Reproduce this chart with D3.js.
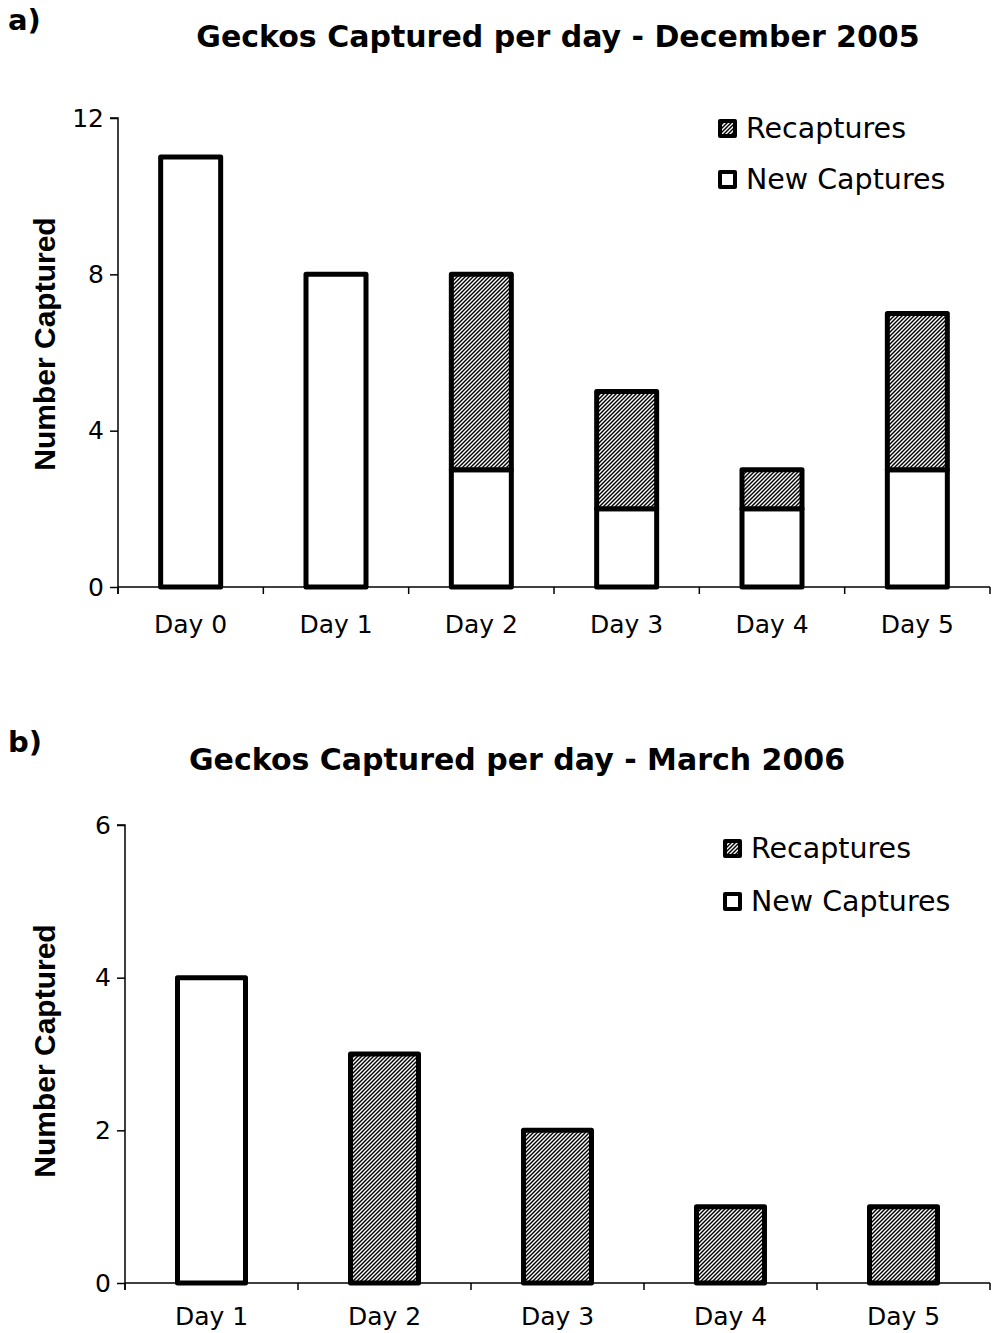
<!DOCTYPE html>
<html lang="en">
  <head>
    <meta charset="UTF-8" />
    <title>Geckos Captured per day</title>
    <script src="https://cdn.jsdelivr.net/npm/d3@7/dist/d3.min.js"></script>
    <style>
      body { margin: 0; background: #fff; }
      text { fill: #000; }
      .tick text, .xl { font: 25px "DejaVu Sans", Verdana, sans-serif; }
      .title { font: bold 30px "DejaVu Sans", Verdana, sans-serif; }
      .panel { font: bold 29px "DejaVu Sans", Verdana, sans-serif; }
      .ylab { font: bold 30px "Liberation Sans", Arial, sans-serif; }
      .legend { font: 28.5px "DejaVu Sans", Verdana, sans-serif; }
    </style>
  </head>
  <body>
    <svg width="996" height="1333"></svg>
    <script>
      // panel a: December 2005
      const daysA = ["Day 0", "Day 1", "Day 2", "Day 3", "Day 4", "Day 5"];
      const newA = [11, 8, 3, 2, 2, 3];
      const recapA = [0, 0, 5, 3, 1, 4];
      const ticksA = [0, 4, 8, 12];

      // panel b: March 2006
      const daysB = ["Day 1", "Day 2", "Day 3", "Day 4", "Day 5"];
      const newB = [4, 0, 0, 0, 0];
      const recapB = [0, 3, 2, 1, 1];
      const ticksB = [0, 2, 4, 6];

      const svg = d3.select("svg");

      // hatch fill for recaptures
      const pat = svg.append("defs").append("pattern")
        .attr("id", "hatch")
        .attr("patternUnits", "userSpaceOnUse")
        .attr("width", 4)
        .attr("height", 4);
      pat.append("rect").attr("width", 4).attr("height", 4).attr("fill", "#000");
      pat.append("path")
        .attr("d", "M-1,1 l2,-2 M0,4 l4,-4 M3,5 l2,-2")
        .attr("stroke", "#fff")
        .attr("stroke-width", 1.4);

      function drawChart(opt) {
        const g = svg.append("g");
        const x = d3.scaleBand().domain(opt.days).range([opt.x0, opt.x1]).paddingInner(0).paddingOuter(0);
        const y = d3.scaleLinear().domain([0, opt.ymax]).range([opt.y0, opt.ytop]);

        // x axis: ticks at category boundaries
        g.append("line")
          .attr("x1", opt.x0).attr("x2", opt.x1)
          .attr("y1", opt.y0).attr("y2", opt.y0)
          .attr("stroke", "#000").attr("stroke-width", 1.5);
        const bounds = opt.days.map((d) => x(d)).concat([opt.x1]);
        g.selectAll(".xt").data(bounds).enter().append("line")
          .attr("x1", (d) => d).attr("x2", (d) => d)
          .attr("y1", opt.y0).attr("y2", opt.y0 + 7)
          .attr("stroke", "#000").attr("stroke-width", 1.5);
        g.selectAll(".xl").data(opt.days).enter().append("text")
          .attr("class", "xl")
          .attr("x", (d) => x(d) + x.bandwidth() / 2)
          .attr("y", opt.y0 + opt.xlabDy)
          .attr("text-anchor", "middle")
          .text((d) => d);

        // y axis
        const yAxis = d3.axisLeft(y).tickValues(opt.yticks).tickFormat(d3.format("d"))
          .tickSize(8).tickPadding(6);
        const ya = g.append("g").attr("transform", `translate(${opt.x0},0)`).call(yAxis);
        ya.select(".domain").attr("stroke-width", 1.5).attr("d", `M-8,${opt.ytop}H0V${opt.y0 + 7}`);
        ya.selectAll(".tick line").attr("stroke-width", 1.5);

        // bars
        const bw = opt.barW;
        const bars = g.selectAll(".bar").data(opt.days).enter().append("g");
        bars.each(function (d, i) {
          const b = d3.select(this);
          const cx = x(d) + x.bandwidth() / 2;
          const n = opt.news[i], r = opt.recaps[i];
          if (n > 0) {
            b.append("rect")
              .attr("x", cx - bw / 2).attr("width", bw)
              .attr("y", y(n)).attr("height", y(0) - y(n))
              .attr("fill", "#fff").attr("stroke", "#000")
              .attr("stroke-width", 5).attr("stroke-linejoin", "round");
          }
          if (r > 0) {
            b.append("rect")
              .attr("x", cx - bw / 2).attr("width", bw)
              .attr("y", y(n + r)).attr("height", y(n) - y(n + r))
              .attr("fill", "url(#hatch)").attr("stroke", "#000")
              .attr("stroke-width", 5).attr("stroke-linejoin", "round");
          }
        });

        // titles
        g.append("text").attr("class", "panel").attr("x", 8).attr("y", opt.panelY).text(opt.panel);
        g.append("text").attr("class", "title")
          .attr("x", opt.titleX).attr("y", opt.titleY)
          .attr("text-anchor", "middle").text(opt.title);
        g.append("text").attr("class", "ylab")
          .attr("transform", `translate(${opt.ylabX},${opt.ylabY}) rotate(-90)`)
          .attr("text-anchor", "middle").text("Number Captured");

        // legend
        const leg = [
          { label: "Recaptures", fill: "url(#hatch)" },
          { label: "New Captures", fill: "#fff" },
        ];
        leg.forEach((l, i) => {
          const ly = opt.legY + i * opt.legGap;
          g.append("rect")
            .attr("x", opt.legX).attr("y", ly - 17)
            .attr("width", 15).attr("height", 15)
            .attr("fill", l.fill).attr("stroke", "#000")
            .attr("stroke-width", 4).attr("stroke-linejoin", "round");
          g.append("text").attr("class", "legend")
            .attr("x", opt.legX + 26).attr("y", ly).text(l.label);
        });
      }

      drawChart({
        days: daysA, news: newA, recaps: recapA, ymax: 12, yticks: ticksA,
        x0: 118, x1: 990, y0: 587, ytop: 118, barW: 60, xlabDy: 46,
        panel: "a)", panelY: 30, title: "Geckos Captured per day - December 2005",
        titleX: 558, titleY: 47, ylabX: 55, ylabY: 344,
        legX: 720, legY: 138, legGap: 51,
      });

      drawChart({
        days: daysB, news: newB, recaps: recapB, ymax: 6, yticks: ticksB,
        x0: 125, x1: 990, y0: 1283, ytop: 825, barW: 68, xlabDy: 42,
        panel: "b)", panelY: 752, title: "Geckos Captured per day - March 2006",
        titleX: 517, titleY: 770, ylabX: 55, ylabY: 1051,
        legX: 725, legY: 858, legGap: 53,
      });
    </script>
  </body>
</html>
